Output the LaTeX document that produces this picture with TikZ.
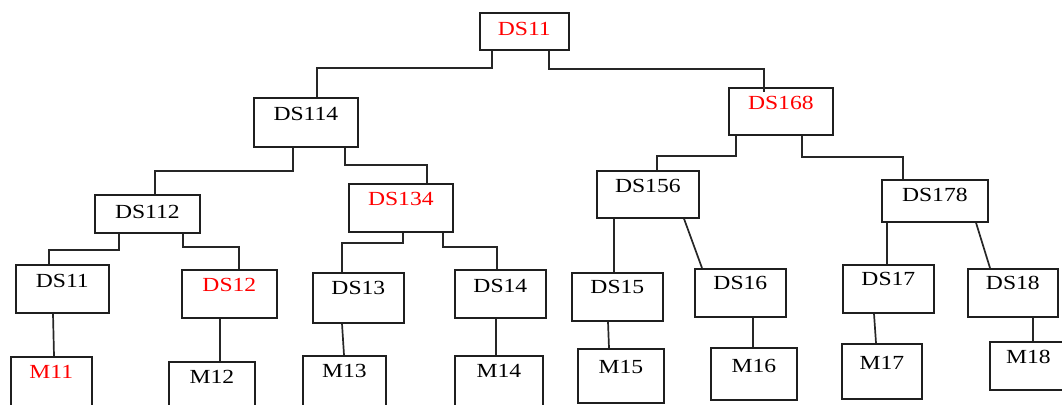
\documentclass[tikz,border=0pt]{standalone}
\usepackage{fontspec}
\setmainfont{Liberation Serif}[FakeStretch=1.18]

% box: x1,y1 = top-left corner, x2,y2 = bottom-right, cy = centre line of the label
\newcommand{\dsbox}[8]{%
  \pgfmathsetmacro{\bxW}{#4-#2}%
  \pgfmathsetmacro{\bxT}{#6+6.6-#3}%
  \pgfmathsetmacro{\bxD}{#5-#3-\bxT}%
  \node[box, text=#7, minimum width=\bxW pt, text height=\bxT pt, text depth=\bxD pt] (#1) at (#2,#3) {#8};%
}
% elbow connector: from a point on the lower edge of #1, down by #3, across and down to the upper edge of #4
\newcommand{\elbow}[5]{%
  \draw[conn] ([xshift=#2pt]#1.south west) -- ++(0,#3) -| ([xshift=#5pt]#4.north west);%
}

\begin{document}
\begin{tikzpicture}[x=1pt, y=-1pt,
  box/.style={draw=black!88, line width=1.7pt, anchor=north west, inner xsep=0pt, inner ysep=0pt,
              minimum height=1pt, font=\fontsize{20}{22}\selectfont},
  conn/.style={draw=black!85, line width=1.7pt}]
\useasboundingbox (0,0) rectangle (1062,404);

% level 0 and 1
\dsbox{r}{479}{12}{568}{49}{28.5}{red}{DS11}
\dsbox{a}{253}{97}{357}{146}{113}{black}{DS114}
\dsbox{b}{728}{87}{832}{134}{102.5}{red}{DS168}
% level 2
\dsbox{aa}{94}{194}{199}{232}{211}{black}{DS112}
\dsbox{ab}{348}{183}{452}{231}{198}{red}{DS134}
\dsbox{ba}{596}{170}{698}{217}{185.5}{black}{DS156}
\dsbox{bb}{881}{179}{987}{221}{194}{black}{DS178}
% level 3
\dsbox{d1}{15}{264}{108}{312}{280}{black}{DS11}
\dsbox{d2}{181}{269}{276}{317}{284}{red}{DS12}
\dsbox{d3}{312}{272}{403}{322}{287.5}{black}{DS13}
\dsbox{d4}{454}{269}{545}{317}{285}{black}{DS14}
\dsbox{d5}{571}{272}{662}{320}{286}{black}{DS15}
\dsbox{d6}{694}{268}{785}{316}{282.5}{black}{DS16}
\dsbox{d7}{842}{264}{933}{312}{278.5}{black}{DS17}
\dsbox{d8}{967}{268}{1057}{316}{282.5}{black}{DS18}
% leaves
\dsbox{m1}{10}{356}{91}{412}{371.5}{red}{M11}
\dsbox{m2}{168}{361}{254}{412}{376.5}{black}{M12}
\dsbox{m3}{302}{355}{385}{412}{370}{black}{M13}
\dsbox{m4}{454}{355}{542}{412}{370}{black}{M14}
\dsbox{m5}{577}{348}{663}{402}{366}{black}{M15}
\dsbox{m6}{710}{347}{796}{399}{365}{black}{M16}
\dsbox{m7}{841}{343}{921}{398}{362.5}{black}{M17}
\dsbox{m8}{989}{341}{1066}{389}{356.5}{black}{M18}

% elbow connectors
\elbow{r}{13}{17}{a}{64}
\draw[conn] ([xshift=70pt]r.south west) -- ++(0,18) -| ([xshift=36pt,yshift=-5pt]b.north west);
\elbow{a}{40}{23}{aa}{61}
\elbow{a}{92}{17}{ab}{79}
\elbow{b}{8}{20}{ba}{61}
\elbow{b}{74}{21}{bb}{22}
\elbow{aa}{25}{16}{d1}{34}
\elbow{aa}{89}{13}{d2}{58}
\elbow{ab}{55}{10}{d3}{30}
\elbow{ab}{95}{14}{d4}{43}

% straight connectors
\draw[conn] ([xshift=18pt]ba.south west) -- ([xshift=43pt]d5.north west);
\draw[conn] ([xshift=88pt]ba.south west) -- ([xshift=8pt]d6.north west);
\draw[conn] ([xshift=6pt]bb.south west) -- ([xshift=45pt]d7.north west);
\draw[conn] ([xshift=95pt]bb.south west) -- ([xshift=23pt]d8.north west);
\draw[conn] ([xshift=38pt]d1.south west) -- ([xshift=44pt]m1.north west);
\draw[conn] ([xshift=39pt]d2.south west) -- ([xshift=52pt]m2.north west);
\draw[conn] ([xshift=30pt]d3.south west) -- ([xshift=42pt]m3.north west);
\draw[conn] ([xshift=42pt]d4.south west) -- ([xshift=42pt]m4.north west);
\draw[conn] ([xshift=37pt]d5.south west) -- ([xshift=32pt]m5.north west);
\draw[conn] ([xshift=59pt]d6.south west) -- ([xshift=43pt]m6.north west);
\draw[conn] ([xshift=32pt]d7.south west) -- ([xshift=35pt]m7.north west);
\draw[conn] ([xshift=66pt]d8.south west) -- ([xshift=44pt]m8.north west);
\end{tikzpicture}
\end{document}
